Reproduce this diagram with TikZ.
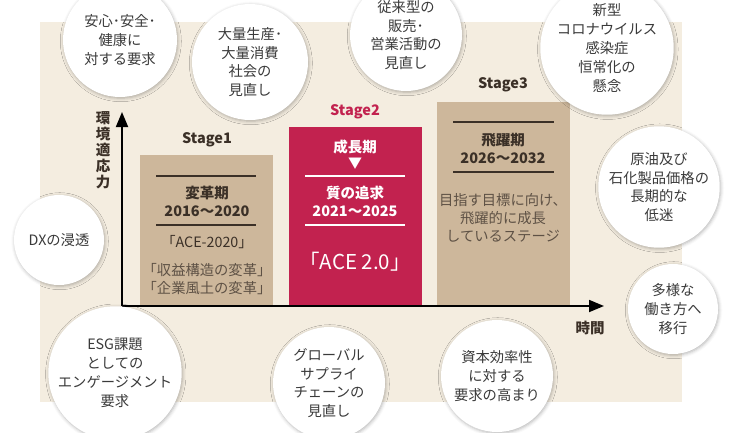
\documentclass[tikz,border=0pt]{standalone}
\usepackage{fontspec}
\setmainfont{Noto Sans CJK JP}
\usetikzlibrary{arrows.meta,shadows.blur}
\definecolor{bgbeige}{HTML}{F4EDE0}
\definecolor{tanbg}{HTML}{CDB79B}
\definecolor{crim}{HTML}{C2224F}
\definecolor{txt}{HTML}{3A3A3A}
\definecolor{boxtxt}{HTML}{3B3027}
\definecolor{boxtxtl}{HTML}{5E5145}
\begin{document}
\begin{tikzpicture}[x=1pt,y=-1pt,
  bubble/.style={circle, fill=white, text=txt, align=center, inner sep=0pt,
    minimum size=#1, font=\fontsize{14.3}{18.8}\selectfont,
    blur shadow={shadow xshift=0.8pt, shadow yshift=-1.2pt, shadow blur radius=3.5pt, shadow opacity=30}},
  stagebox/.style={fill=#1, inner sep=0pt, anchor=north west, minimum width=133pt},
  stagelabel/.style={font=\fontsize{14.5}{16}\selectfont\bfseries, text=boxtxt},
  boldtxt/.style={font=\fontsize{14.5}{18}\selectfont\bfseries, align=center},
  normtxt/.style={font=\fontsize{14.3}{18.3}\selectfont, align=center},
  boxline/.style={line width=1.1pt, draw=#1},
  axisline/.style={line width=1.8pt, draw=black, -{Triangle[length=15pt,width=12pt]}}
]
\useasboundingbox (0,0) rectangle (737,432);
\clip (0,0) rectangle (737,432);
\fill[bgbeige] (40,22) rectangle (682,402);

% stage boxes
\node[stagebox=tanbg, minimum height=150pt] (s1) at (140,155) {};
\node[stagebox=crim, minimum height=178pt] (s2) at (289,127) {};
\node[stagebox=tanbg, minimum height=203pt] (s3) at (437,102) {};

% axes
\coordinate (o) at (122,306);
\coordinate (ytip) at (122,112);
\coordinate (xtip) at (604,306);
\draw[axisline] (o) -- (ytip);
\draw[axisline] (o) -- (xtip);
\node[font=\fontsize{14.5}{16}\selectfont\bfseries, align=center, text=boxtxt] (ylab) at (103,150) {環\\境\\適\\応\\力};
\node[font=\fontsize{14.5}{16}\selectfont\bfseries, text=boxtxt] (xlab) at (590,328) {時間};

% Stage 1
\node[stagelabel] (l1) at (207,140) {Stage1};
\draw[boxline=boxtxt] (156,176) -- (256,176);
\draw[boxline=boxtxt] (156,225) -- (256,225);
\node[boldtxt, text=boxtxt] (t1a) at (207,201) {変革期\\2016～2020};
\node[normtxt, text=boxtxt] (t1b) at (207,242) {「ACE-2020」};
\node[normtxt, text=boxtxtl, font=\fontsize{14.3}{18}\selectfont] (t1c) at (207,279) {「収益構造の変革」\\「企業風土の変革」};

% Stage 2
\node[stagelabel, text=crim] (l2) at (355,112) {Stage2};
\node[boldtxt, text=white] (t2a) at (355,147) {成長期};
\node[text=white, font=\fontsize{14}{14}\selectfont] (t2arr) at (355,164) {▼};
\draw[boxline=white] (305,176) -- (405,176);
\draw[boxline=white] (305,225) -- (405,225);
\node[boldtxt, text=white] (t2b) at (355,201) {質の追求\\2021～2025};
\node[text=white, font=\fontsize{20.5}{22}\selectfont] (t2c) at (355,262) {「ACE 2.0」};

% Stage 3
\node[stagelabel] (l3) at (503,85) {Stage3};
\draw[boxline=boxtxt] (453,122) -- (554,122);
\draw[boxline=boxtxt] (453,172) -- (554,172);
\node[boldtxt, text=boxtxt] (t3a) at (503,148) {飛躍期\\2026～2032};
\node[normtxt, text=boxtxtl] (t3b) at (503,218) {目指す目標に向け、\\飛躍的に成長\\しているステージ};

% bubbles
\node[bubble=114pt] (b1) at (120,40) {安心･安全･\\健康に\\対する要求};
\node[bubble=116pt] (b2) at (250,62) {大量生産･\\大量消費\\社会の\\見直し};
\node[bubble=112pt] (b3) at (406,35) {従来型の\\販売･\\営業活動の\\見直し};
\node[bubble=115pt] (b4) at (607,48) {新型\\コロナウイルス\\感染症\\恒常化の\\懸念};
\node[bubble=110pt] (b5) at (659,187) {原油及び\\石化製品価格の\\長期的な\\低迷};
\node[bubble=90pt] (b6) at (673,309) {多様な\\働き方へ\\移行};
\node[bubble=90pt] (b7) at (59,240) {DXの浸透};
\node[bubble=113pt] (b8) at (115,373) {ESG課題\\としての\\エンゲージメント\\要求};
\node[bubble=112pt] (b9) at (329,383) {グローバル\\サプライ\\チェーンの\\見直し};
\node[bubble=112pt] (b10) at (497,376) {資本効率性\\に対する\\要求の高まり};
\end{tikzpicture}
\end{document}
